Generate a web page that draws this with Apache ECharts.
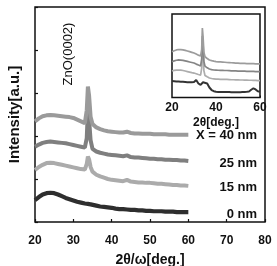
<!DOCTYPE html>
<html>
<head>
<meta charset="utf-8">
<script src="https://cdn.jsdelivr.net/npm/echarts@6/dist/echarts.min.js"></script>
<style>
  html, body { margin: 0; padding: 0; background: #fff; }
  #chart { width: 277px; height: 266px; }
</style>
</head>
<body>
<div id="chart"></div>
<script>
// 2θ values (deg.) shared by all scans
const twoTheta = [20,21,22,23,24,25,26,27,28,29,30,31,32,33,33.5,33.8,34.1,34.5,35,
  36,37,38,39,40,41,42,43,44,45,46,47,48,49,50,51,52,53,54,55,56,57,58,59,60];

// main panel, offset intensities (a.u.)
const main0 = [0.51,0.58,0.64,0.67,0.68,0.67,0.64,0.6,0.56,0.53,0.5,0.47,0.45,0.43,0.42,0.42,0.42,0.41,0.4,
  0.38,0.36,0.35,0.34,0.33,0.31,0.3,0.3,0.29,0.28,0.28,0.27,0.27,0.26,0.26,0.25,0.25,0.25,0.24,0.24,0.24,0.23,0.23,0.23,0.23];
const main15 = [1.21,1.28,1.33,1.37,1.38,1.37,1.35,1.33,1.31,1.29,1.27,1.25,1.23,1.22,1.35,1.52,1.46,1.28,1.17,
  1.1,1.06,1.03,1.0,0.98,0.97,0.96,0.95,0.98,0.94,0.93,0.92,0.92,0.91,0.91,0.9,0.89,0.89,0.88,0.87,0.86,0.86,0.85,0.85,0.84];
const main25 = [1.75,1.8,1.84,1.86,1.87,1.86,1.85,1.84,1.83,1.81,1.79,1.77,1.75,1.73,1.95,2.6,2.4,1.9,1.7,
  1.64,1.61,1.59,1.57,1.56,1.55,1.54,1.53,1.55,1.51,1.5,1.5,1.49,1.48,1.47,1.47,1.46,1.46,1.45,1.45,1.44,1.44,1.43,1.43,1.42];
const main40 = [2.34,2.41,2.46,2.48,2.49,2.48,2.47,2.46,2.45,2.44,2.42,2.38,2.34,2.3,2.6,3.15,2.95,2.45,2.28,
  2.2,2.16,2.13,2.11,2.1,2.09,2.08,2.08,2.1,2.07,2.06,2.06,2.05,2.05,2.05,2.04,2.04,2.04,2.04,2.03,2.03,2.03,2.03,2.03,2.03];

// inset panel (2θ scans)
const ins0 = [1.23,1.22,1.2,1.19,1.18,1.17,1.16,1.15,1.14,1.14,1.16,1.31,1.05,0.94,1.0,1.08,1.14,1.2,1.23,
  1.05,0.75,0.56,0.47,0.43,0.42,0.42,0.41,0.41,0.41,0.41,0.4,0.4,0.4,0.4,0.4,0.41,0.42,0.43,0.45,0.58,0.69,0.6,0.46,0.43];
const ins15 = [1.98,2.03,2.05,2.06,2.05,2.02,1.98,1.94,1.9,1.86,1.83,1.78,1.72,1.68,2.2,4.0,3.6,2.0,1.65,
  1.55,1.46,1.42,1.4,1.38,1.37,1.36,1.36,1.35,1.35,1.34,1.33,1.33,1.32,1.32,1.31,1.31,1.3,1.3,1.29,1.29,1.28,1.28,1.27,1.26];
const ins25 = [2.68,2.74,2.79,2.81,2.8,2.78,2.74,2.7,2.66,2.62,2.58,2.5,2.43,2.36,2.9,4.6,4.1,2.7,2.35,
  2.22,2.13,2.09,2.06,2.05,2.04,2.03,2.03,2.02,2.02,2.01,2.0,2.0,1.99,1.98,1.98,1.97,1.97,1.96,1.96,1.95,1.95,1.94,1.94,1.93];
const ins40 = [3.43,3.5,3.56,3.59,3.59,3.57,3.53,3.48,3.43,3.38,3.33,3.25,3.17,3.1,3.6,5.2,4.6,3.4,3.05,
  2.92,2.81,2.76,2.72,2.69,2.67,2.66,2.65,2.64,2.62,2.61,2.6,2.59,2.58,2.57,2.56,2.55,2.55,2.54,2.54,2.53,2.53,2.52,2.51,2.51];

const thickLabels = ['X = 40 nm', '25 nm', '15 nm', '0 nm'];

const font = 'Liberation Sans, Arial, sans-serif';
const pairs = ys => twoTheta.map((x, i) => [x, ys[i]]);

function line(ys, color, width, idx) {
  return {
    type: 'line', data: pairs(ys), xAxisIndex: idx, yAxisIndex: idx,
    symbol: 'none', lineStyle: { color: color, width: width }, z: idx ? 12 : 3
  };
}

const chart = echarts.init(document.getElementById('chart'));
chart.setOption({
  animation: false,
  backgroundColor: '#fff',
  grid: [
    { left: 35, right: 12, top: 7, bottom: 44, outerBoundsMode: 'none', show: true, borderColor: '#111', borderWidth: 1.5 },
    { left: 172, right: 17, top: 14, bottom: 168.5, outerBoundsMode: 'none', show: true, borderColor: '#111', borderWidth: 1.5, backgroundColor: '#fff', z: 5 }
  ],
  xAxis: [
    {
      gridIndex: 0, type: 'value', min: 20, max: 80, interval: 10,
      name: '2θ/ω[deg.]', nameLocation: 'middle', nameGap: 31,
      nameTextStyle: { fontFamily: font, fontWeight: 'bold', fontSize: 14, color: '#111' },
      axisLine: { show: false },
      axisTick: { inside: true, length: 3, lineStyle: { color: '#111', width: 1.2 } },
      axisLabel: { margin: 13, fontFamily: font, fontWeight: 'bold', fontSize: 12, color: '#111' },
      splitLine: { show: false }
    },
    {
      gridIndex: 1, type: 'value', min: 20, max: 60, interval: 10,
      name: '2θ[deg.]', nameLocation: 'middle', nameGap: 19,
      nameTextStyle: { fontFamily: font, fontWeight: 'bold', fontSize: 12, color: '#111' },
      axisLine: { show: false },
      axisTick: { inside: true, length: 2, lineStyle: { color: '#111', width: 1 } },
      axisLabel: {
        margin: 4, fontFamily: font, fontWeight: 'bold', fontSize: 12, color: '#111',
        formatter: v => (v % 20 === 0 ? String(v) : '')
      },
      splitLine: { show: false }
    }
  ],
  yAxis: [
    {
      gridIndex: 0, type: 'value', min: 0, max: 5, interval: 1,
      name: 'Intensity[a.u.]', nameLocation: 'middle', nameGap: 13,
      nameTextStyle: { fontFamily: font, fontWeight: 'bold', fontSize: 15, color: '#111' },
      axisLine: { show: false },
      axisTick: { inside: true, length: 3, lineStyle: { color: '#111', width: 1.2 } },
      axisLabel: { show: false },
      splitLine: { show: false }
    },
    {
      gridIndex: 1, type: 'value', min: 0, max: 6.25, interval: 1,
      axisLine: { show: false },
      axisTick: { inside: true, length: 2, lineStyle: { color: '#111', width: 1 } },
      axisLabel: { show: false },
      splitLine: { show: false }
    }
  ],
  series: [
    line(main0, '#2e2e2e', 4.2, 0),
    line(main15, '#ababab', 4, 0),
    line(main25, '#7f7f7f', 4, 0),
    line(main40, '#9a9a9a', 4, 0),
    line(ins0, '#333333', 2, 1),
    line(ins15, '#adadad', 1.7, 1),
    line(ins25, '#858585', 1.7, 1),
    line(ins40, '#9c9c9c', 1.7, 1)
  ],
  graphic: [
    { type: 'text', x: 257, y: 135, style: { text: thickLabels[0], textAlign: 'right', textVerticalAlign: 'middle', font: 'bold 13px ' + font, fill: '#111' } },
    { type: 'text', x: 257, y: 163, style: { text: thickLabels[1], textAlign: 'right', textVerticalAlign: 'middle', font: 'bold 13px ' + font, fill: '#111' } },
    { type: 'text', x: 257, y: 187, style: { text: thickLabels[2], textAlign: 'right', textVerticalAlign: 'middle', font: 'bold 13px ' + font, fill: '#111' } },
    { type: 'text', x: 257, y: 214, style: { text: thickLabels[3], textAlign: 'right', textVerticalAlign: 'middle', font: 'bold 13px ' + font, fill: '#111' } },
    { type: 'text', x: 68, y: 54, rotation: Math.PI / 2, style: { text: 'ZnO(0002)', textAlign: 'center', textVerticalAlign: 'middle', font: '13px ' + font, fill: '#111' } }
  ]
});
</script>
</body>
</html>
